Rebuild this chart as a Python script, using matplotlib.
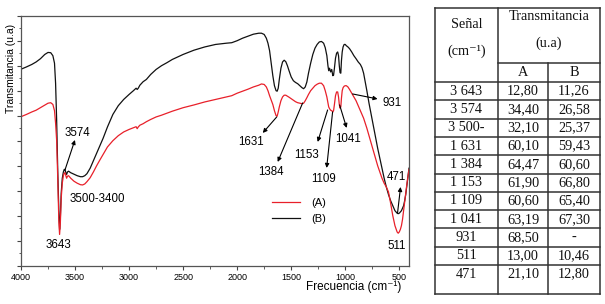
import matplotlib
matplotlib.use('agg')
import matplotlib.pyplot as plt  # noqa: E402
from matplotlib.lines import Line2D  # noqa: E402

# FTIR spectra, wavenumber (cm-1) vs transmittance (arbitrary units)
wn = [4000, 3950, 3900, 3860, 3820, 3780, 3750, 3725, 3705, 3690, 3680, 3670,
      3660, 3650, 3643, 3636, 3628, 3618, 3608, 3600, 3593, 3585, 3578, 3570,
      3560, 3540, 3510, 3480, 3450, 3430, 3410, 3390, 3360, 3330, 3300, 3270,
      3240, 3200, 3150, 3100, 3050, 3000, 2960, 2935, 2925, 2915, 2900, 2870,
      2840, 2800, 2750, 2700, 2650, 2600, 2500, 2400, 2300, 2200, 2100, 2050,
      2000, 1950, 1900, 1850, 1800, 1775, 1750, 1730, 1715, 1700, 1685, 1670,
      1655, 1640, 1630, 1620, 1610, 1595, 1580, 1565, 1550, 1535, 1520, 1500,
      1480, 1460, 1440, 1420, 1400, 1385, 1370, 1355, 1340, 1320, 1300, 1280,
      1260, 1240, 1220, 1200, 1185, 1170, 1160, 1153, 1145, 1135, 1125, 1115,
      1108, 1100, 1090, 1080, 1070, 1062, 1055, 1048, 1041, 1035, 1028, 1020,
      1010, 1000, 990, 975, 960, 940, 920, 900, 880, 860, 845, 830,
      815, 800, 780, 760, 740, 720, 700, 680, 660, 640, 620, 600,
      580, 560, 540, 520, 510, 500, 490, 480, 470, 460, 450, 440,
      430, 420, 410]

trans_b = [7.86, 7.95, 8.05, 8.15, 8.28, 8.45, 8.53, 8.52, 8.40, 8.10, 7.30, 5.80,
           3.80, 2.20, 1.45, 1.90, 2.90, 3.50, 3.75, 3.85, 3.85, 3.72, 3.65, 3.75,
           3.78, 3.72, 3.66, 3.60, 3.56, 3.56, 3.60, 3.68, 3.90, 4.20, 4.50, 4.80,
           5.10, 5.55, 6.05, 6.40, 6.65, 6.85, 7.00, 7.10, 7.05, 7.10, 7.22, 7.36,
           7.45, 7.65, 7.85, 8.00, 8.12, 8.25, 8.45, 8.62, 8.75, 8.85, 8.90, 8.92,
           9.00, 9.10, 9.18, 9.26, 9.30, 9.30, 9.25, 9.10, 8.90, 8.60, 8.10, 7.60,
           7.20, 7.00, 6.98, 7.10, 7.45, 7.90, 8.15, 8.22, 8.16, 8.00, 7.80, 7.55,
           7.40, 7.33, 7.28, 7.20, 7.12, 7.08, 7.15, 7.35, 7.70, 8.10, 8.45, 8.70,
           8.85, 8.95, 8.97, 8.90, 8.72, 8.40, 8.00, 7.80, 7.90, 7.75, 7.85, 7.60,
           7.62, 7.90, 8.30, 8.50, 8.55, 8.40, 8.00, 7.72, 7.70, 8.20, 8.55, 8.75,
           8.85, 8.85, 8.80, 8.75, 8.68, 8.55, 8.40, 8.28, 8.15, 8.05, 7.92, 7.70,
           7.35, 7.00, 6.50, 6.05, 5.60, 5.15, 4.70, 4.30, 3.90, 3.50, 3.15, 2.85,
           2.60, 2.40, 2.20, 2.10, 2.08, 2.10, 2.15, 2.20, 2.30, 2.40, 2.60, 2.85,
           3.20, 3.55, 3.90]

trans_a = [5.96, 6.05, 6.15, 6.22, 6.32, 6.42, 6.50, 6.52, 6.45, 6.20, 5.70, 5.00,
           3.50, 1.80, 1.25, 1.70, 2.70, 3.30, 3.60, 3.70, 3.72, 3.60, 3.50, 3.58,
           3.60, 3.50, 3.38, 3.30, 3.24, 3.23, 3.27, 3.36, 3.52, 3.75, 4.00, 4.23,
           4.45, 4.75, 5.00, 5.20, 5.35, 5.45, 5.52, 5.56, 5.48, 5.55, 5.62, 5.68,
           5.76, 5.85, 5.95, 6.02, 6.10, 6.18, 6.32, 6.43, 6.55, 6.65, 6.75, 6.80,
           6.90, 6.98, 7.06, 7.15, 7.22, 7.27, 7.25, 7.15, 7.00, 6.80, 6.62, 6.45,
           6.20, 6.00, 5.98, 6.15, 6.35, 6.60, 6.75, 6.82, 6.82, 6.78, 6.74, 6.68,
           6.62, 6.56, 6.52, 6.50, 6.48, 6.50, 6.60, 6.72, 6.85, 7.00, 7.10, 7.20,
           7.26, 7.30, 7.30, 7.20, 7.00, 6.75, 6.50, 6.35, 6.28, 6.22, 6.20, 6.15,
           6.20, 6.45, 6.80, 6.95, 6.95, 6.75, 6.45, 6.30, 6.35, 6.70, 7.00, 7.12,
           7.18, 7.20, 7.20, 7.15, 7.05, 6.90, 6.75, 6.60, 6.40, 6.20, 6.05, 5.90,
           5.70, 5.50, 5.20, 4.90, 4.60, 4.30, 4.00, 3.75, 3.50, 3.30, 3.15, 2.95,
           2.50, 2.00, 1.60, 1.35, 1.30, 1.35, 1.45, 1.60, 1.85, 2.20, 2.55, 2.90,
           3.25, 3.55, 3.85]

# peak labels: (text, label x, label y)
peak_labels = [('3643', 3658, 0.83), ('3574', 3482, 5.31), ('3500-3400', 3298, 2.67),
               ('1631', 1874, 4.95), ('1384', 1690, 3.75), ('1153', 1357, 4.43),
               ('1109', 1200, 3.47), ('1041', 978, 5.07), ('931', 571, 6.51),
               ('511', 525, 0.79), ('471', 525, 3.55)]
# arrows: (start x, start y, tip x, tip y)
peak_arrows = [(3593, 3.83, 3501, 5.03), (1634, 5.95, 1763, 5.31),
               (1394, 6.51, 1625, 4.15), (1163, 6.23, 1255, 4.95),
               (1117, 6.15, 1172, 3.91), (1052, 6.43, 987, 5.51),
               (932, 6.87, 701, 6.67), (516, 2.11, 488, 3.15)]

# table
senal = ['3 643', '3 574', '3 500-', '1 631', '1 384', '1 153', '1 109',
         '1 041', '931', '511', '471']
tab_a = ['12,80', '34,40', '32,10', '60,10', '64,47', '61,90', '60,60',
         '63,19', '68,50', '13,00', '21,10']
tab_b = ['11,26', '26,58', '25,37', '59,43', '60,60', '66,80', '65,40',
         '67,30', '-', '10,46', '12,80']

sans = ['Liberation Sans', 'DejaVu Sans']
serif = ['Liberation Serif', 'DejaVu Serif']
plt.rcParams['font.family'] = sans

W, H = 605, 304
fig = plt.figure(figsize=(W / 100, H / 100), dpi=100)
ax = fig.add_axes([21 / W, 1 - 265.7 / H, 388 / W, 250 / H])

ax.plot(wn, trans_b, color='#111111', lw=0.9, label='(B)')
ax.plot(wn, trans_a, color='#e8202a', lw=0.9, label='(A)')

ax.set_xlim(4000, 410)
ax.set_ylim(0, 10)
ax.set_xticks([4000, 3500, 3000, 2500, 2000, 1500, 1000, 500])
ax.set_xticks(range(750, 4000, 500), minor=True)
ax.set_yticks(range(0, 11))
ax.set_yticks([i + 0.5 for i in range(10)], minor=True)
ax.set_yticklabels([])
ax.tick_params(axis='both', which='major', length=3, width=0.8, color='#444444',
               labelsize=6.5, pad=2)
ax.tick_params(axis='both', which='minor', length=1.8, width=0.6, color='#444444')
for sp in ax.spines.values():
    sp.set_color('#555555')
    sp.set_linewidth(0.9)

ax.set_xlabel('Frecuencia (cm⁻¹)', fontsize=8.5)
ax.xaxis.set_label_coords(0.98, -0.06)
ax.xaxis.label.set_ha('right')
ax.xaxis.label.set_va('top')
ax.set_ylabel('Transmitancia (u.a)', fontsize=7.5)
ax.yaxis.set_label_coords(-0.012, 0.79)
ax.yaxis.label.set_va('bottom')

for txt, x, y in peak_labels:
    ax.text(x, y, txt, fontsize=8.3, ha='center', va='center')
for x0, y0, x1, y1 in peak_arrows:
    ax.annotate('', xy=(x1, y1), xytext=(x0, y0),
                arrowprops=dict(arrowstyle='-|>', color='black', lw=0.8,
                                mutation_scale=6, shrinkA=0, shrinkB=0))

handles = [Line2D([], [], color='#e8202a', lw=0.9),
           Line2D([], [], color='#111111', lw=0.9)]
ax.legend(handles, ['(A)', '(B)'], loc='upper left', bbox_to_anchor=(0.62, 0.31),
          frameon=False, fontsize=8, handlelength=2.6, handletextpad=1.0,
          labelspacing=0.55)


# table drawn in pixel coordinates of the figure
def hline(y, x0, x1):
    fig.add_artist(Line2D([x0 / W, x1 / W], [1 - y / H, 1 - y / H],
                          color='#333333', lw=1.1))


def vline(x, y0, y1):
    fig.add_artist(Line2D([x / W, x / W], [1 - y0 / H, 1 - y1 / H],
                          color='#333333', lw=1.1))


def cell(x, y, s):
    fig.text(x / W, 1 - y / H, s, ha='center', va='center', fontsize=10.3,
             family=serif, color='#111111')


left, c1, c2, right = 435, 498, 548, 600
top, sub, body, bottom = 8, 63, 82, 294
row_h = 18.3

hline(top, left, right)
hline(sub, c1, right)
for k in range(11):
    hline(body + k * row_h, left, right)
hline(bottom, left, right)
vline(left, top, bottom)
vline(c1, top, bottom)
vline(c2, sub, bottom)
vline(right, top, bottom)

cell((left + c1) / 2, 25, 'Señal')
cell((left + c1) / 2, 51, '(cm⁻¹)')
cell((c1 + right) / 2, 17, 'Transmitancia')
cell((c1 + right) / 2, 43, '(u.a)')
cell((c1 + c2) / 2, 73, 'A')
cell((c2 + right) / 2, 73, 'B')
for k in range(len(senal)):
    yc = body + (k + 0.5) * row_h
    cell((left + c1) / 2, yc, senal[k])
    cell((c1 + c2) / 2, yc, tab_a[k])
    cell((c2 + right) / 2, yc, tab_b[k])

plt.savefig('out.png', dpi=100)
